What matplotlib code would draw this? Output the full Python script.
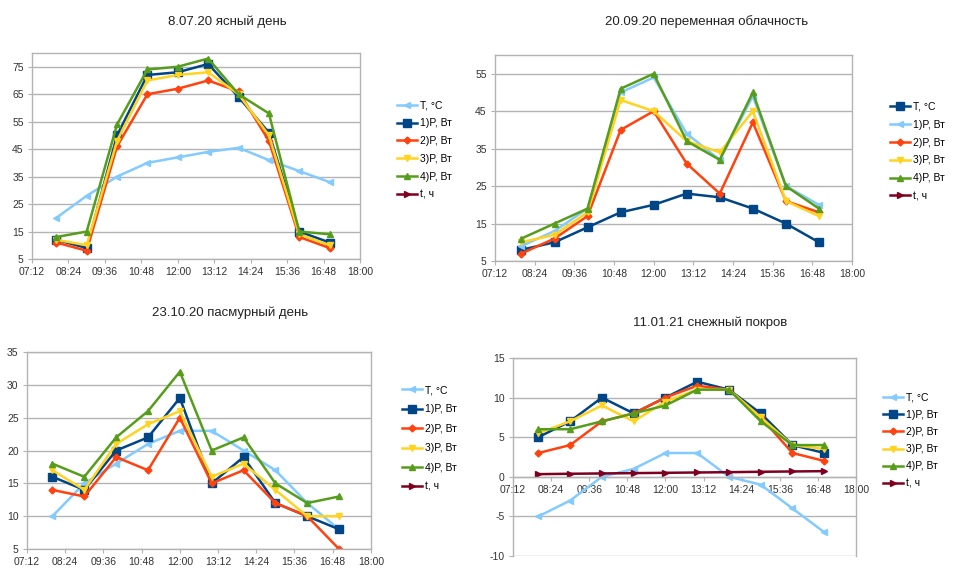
import matplotlib.pyplot as plt

plt.rcParams['font.family'] = ['Liberation Sans', 'DejaVu Sans']
plt.rcParams['axes.unicode_minus'] = False

# time of the measurements, hours
hours = [8, 9, 10, 11, 12, 13, 14, 15, 16, 17]
tick_pos = [7.2, 8.4, 9.6, 10.8, 12.0, 13.2, 14.4, 15.6, 16.8, 18.0]
tick_labels = ['07:12', '08:24', '09:36', '10:48', '12:00', '13:12',
               '14:24', '15:36', '16:48', '18:00']
labels = ['T, °C', '1)P, Вт', '2)P, Вт', '3)P, Вт', '4)P, Вт', 't, ч']
t_day = [0.33, 0.38, 0.42, 0.46, 0.50, 0.54, 0.58, 0.63, 0.67, 0.71]

# 8.07.20 ясный день
T_a = [20, 28, 35, 40, 42, 44, 45.5, 41, 37, 33]
P1_a = [12, 9, 50, 72, 73, 76, 64, 51, 15, 11]
P2_a = [11, 8, 46, 65, 67, 70, 66, 48, 13, 9]
P3_a = [12, 10, 48, 70, 72, 73, 65, 50, 14, 10]
P4_a = [13, 15, 54, 74, 75, 78, 65, 58, 15, 14]

# 20.09.20 переменная облачность
T_b = [8, 10, 14, 18, 20, 23, 22, 19, 15, 10]
P1_b = [9, 13, 19, 50, 54, 39, 32, 49, 25, 20]
P2_b = [7, 11, 17, 40, 45, 31, 23, 42, 21, 18]
P3_b = [10, 12, 18, 48, 45, 37, 34, 45, 21, 17]
P4_b = [11, 15, 19, 51, 55, 37, 32, 50, 25, 19]

# 23.10.20 пасмурный день
T_c = [10, 15, 18, 21, 23, 23, 20, 17, 12, 8]
P1_c = [16, 14, 20, 22, 28, 15, 19, 12, 10, 8]
P2_c = [14, 13, 19, 17, 25, 15, 17, 12, 10, 5]
P3_c = [17, 14, 21, 24, 26, 16, 18, 14, 10, 10]
P4_c = [18, 16, 22, 26, 32, 20, 22, 15, 12, 13]

# 11.01.21 снежный покров
T_d = [-5, -3, 0, 1, 3, 3, 0, -1, -4, -7]
P1_d = [5, 7, 10, 8, 10, 12, 11, 8, 4, 3]
P2_d = [3, 4, 7, 8, 10, 11.5, 11, 7.5, 3, 2]
P3_d = [5.5, 7, 9, 7, 9.5, 11, 11, 7.5, 4, 3.5]
P4_d = [6, 6, 7, 8, 9, 11, 11, 7, 4, 4]

blue, red, yellow = '#004586', '#ff420e', '#ffd320'
green, maroon, light = '#579d1c', '#7e0021', '#83caff'

sty_dark = (blue, 's', 6)
sty_light = (light, '<', 4.5)
rest = [(red, 'D', 3.5), (yellow, 'v', 5), (green, '^', 5), (maroon, '>', 5)]
styles_main = [sty_light, sty_dark] + rest
styles_alt = [sty_dark, sty_light] + rest

grey = '#b3b3b3'

fig = plt.figure(figsize=(9.56, 5.70), dpi=100)


def panel(rect, data, styles, ylim, yticks, title, title_xy, leg_xy,
          spacing=0.75, zero=False):
    ax = fig.add_axes(rect)
    for vals, lab, (c, m, ms) in zip(data, labels, styles):
        ax.plot(hours, vals, color=c, marker=m, markersize=ms, lw=1.8,
                label=lab)
    ax.set_xlim(7.2, 18.0)
    ax.set_ylim(*ylim)
    ax.set_yticks(yticks)
    ax.set_xticks(tick_pos)
    ax.set_xticklabels(tick_labels)
    ax.grid(axis='y', color=grey, lw=1)
    ax.set_axisbelow(True)
    for s in ax.spines.values():
        s.set_color(grey)
        s.set_linewidth(1)
    if zero:
        ax.spines['bottom'].set_position(('data', 0))
    ax.tick_params(colors='#333333', labelsize=7.5, length=3, color=grey, pad=3)
    fig.text(title_xy[0], title_xy[1], title, ha='center', va='center',
             fontsize=9.5, color='#222222')
    ax.legend(loc='center left', bbox_to_anchor=leg_xy,
              bbox_transform=fig.transFigure, frameon=False, fontsize=7.5,
              handlelength=1.9, handletextpad=0.3, labelspacing=spacing,
              borderpad=0, borderaxespad=0)
    return ax


panel([0.0335, 0.5456, 0.3431, 0.3614],
      [T_a, P1_a, P2_a, P3_a, P4_a, t_day], styles_main,
      (5, 80), [5, 15, 25, 35, 45, 55, 65, 75],
      '8.07.20 ясный день', (227 / 956, 1 - 22 / 570), (397 / 956, 1 - 150 / 570))

panel([0.5178, 0.5421, 0.3734, 0.3614],
      [T_b, P1_b, P2_b, P3_b, P4_b, t_day], styles_alt,
      (5, 60), [5, 15, 25, 35, 45, 55],
      '20.09.20 переменная облачность', (707 / 956, 1 - 22 / 570),
      (890 / 956, 1 - 151.5 / 570))

panel([0.0282, 0.0368, 0.3598, 0.3456],
      [T_c, P1_c, P2_c, P3_c, P4_c, t_day], styles_main,
      (5, 35), [5, 10, 15, 20, 25, 30, 35],
      '23.10.20 пасмурный день', (230 / 956, 1 - 313 / 570),
      (402 / 956, 1 - 438.5 / 570), spacing=0.9)

panel([0.5366, 0.0246, 0.3588, 0.3474],
      [T_d, P1_d, P2_d, P3_d, P4_d, t_day], styles_main,
      (-10, 15), [-10, -5, 0, 5, 10, 15],
      '11.01.21 снежный покров', (710 / 956, 1 - 323 / 570),
      (883 / 956, 1 - 440.5 / 570), spacing=0.7, zero=True)

fig.savefig('out.png', dpi=100)
